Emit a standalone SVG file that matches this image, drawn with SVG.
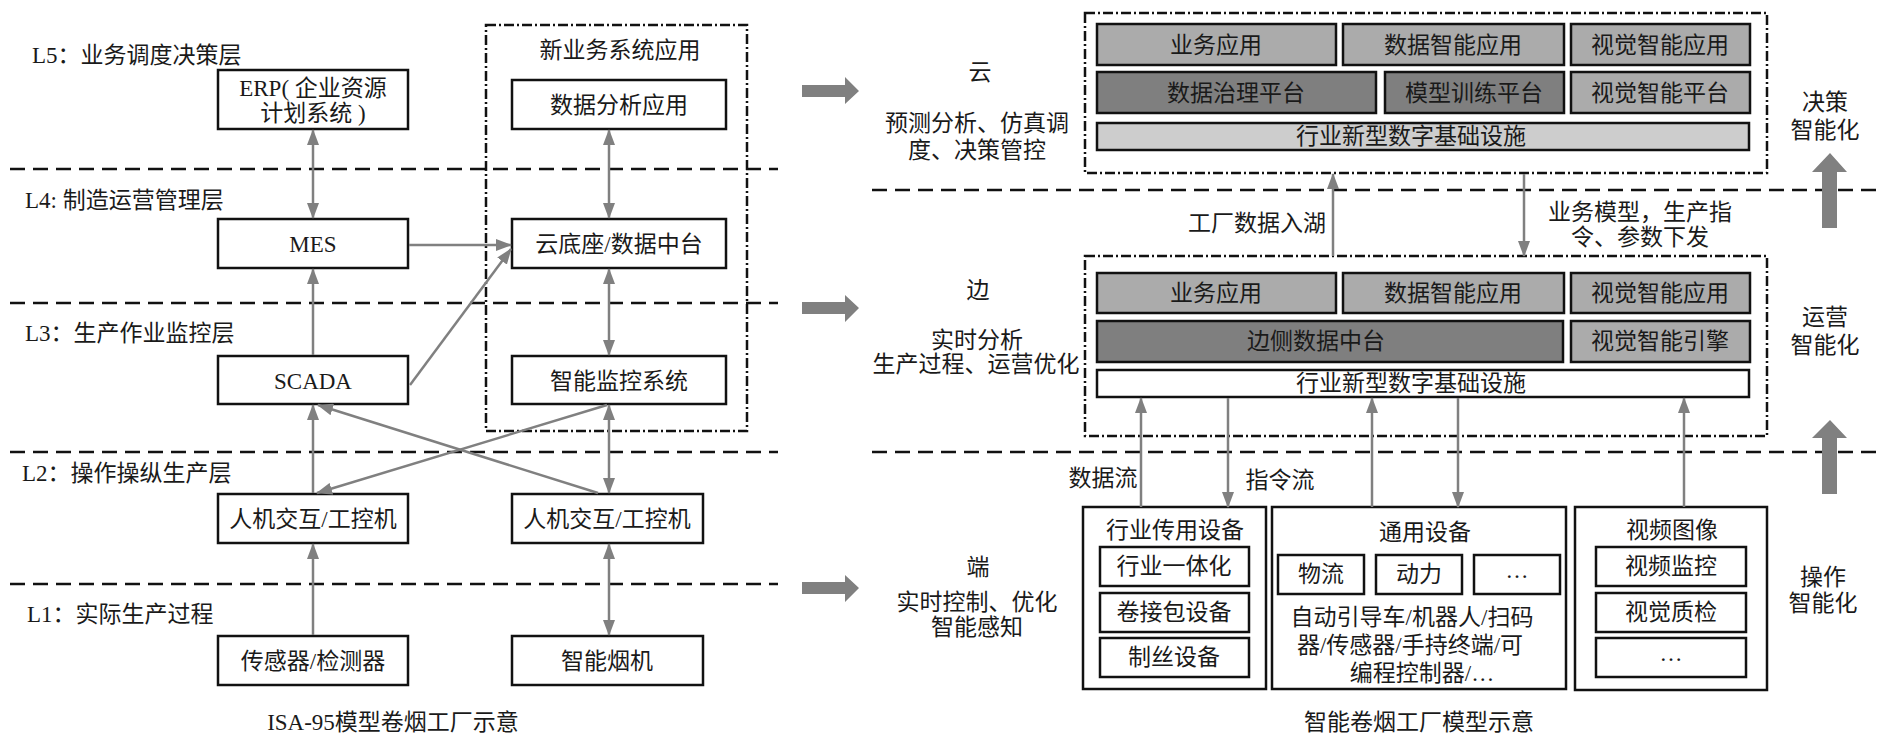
<svg xmlns="http://www.w3.org/2000/svg" width="1904" height="742" viewBox="0 0 1904 742">
<style>
text{font-family:"Liberation Serif","Noto Sans CJK SC",serif;font-size:23px;fill:#1a1a1a;dominant-baseline:central}
.c{text-anchor:middle}
.box{fill:#fff;stroke:#111;stroke-width:2.5}
.g1{fill:#ababab;stroke:#111;stroke-width:2.5}
.g2{fill:#7f7f7f;stroke:#111;stroke-width:2.5}
.g3{fill:#cdcdcd;stroke:#111;stroke-width:2.5}
.dash{stroke:#111;stroke-width:2.5;stroke-dasharray:15 8;fill:none}
.dd{fill:none;stroke:#111;stroke-width:2.5;stroke-dasharray:10 3 2 3}
.cn{stroke:#808080;stroke-width:2.5;fill:none}
.big{fill:#808080}
</style>
<defs>
<marker id="ah" markerUnits="userSpaceOnUse" markerWidth="16" markerHeight="12" refX="15" refY="6" orient="auto-start-reverse">
<path d="M0,0 L16,6 L0,12 z" fill="#808080"/>
</marker>
</defs>
<rect width="1904" height="742" fill="#fff"/>

<g id="layer-lines">
<line class="dash" x1="10" y1="169" x2="778" y2="169"/>
<line class="dash" x1="10" y1="303" x2="778" y2="303"/>
<line class="dash" x1="10" y1="452" x2="778" y2="452"/>
<line class="dash" x1="10" y1="584" x2="778" y2="584"/>
<line class="dash" x1="872" y1="190" x2="1878" y2="190"/>
<line class="dash" x1="872" y1="452" x2="1878" y2="452"/>
</g>

<g id="layer-labels">
<text x="32" y="55">L5：业务调度决策层</text>
<text x="25" y="200">L4: 制造运营管理层</text>
<text x="25" y="333">L3：生产作业监控层</text>
<text x="22" y="473">L2：操作操纵生产层</text>
<text x="27" y="614">L1：实际生产过程</text>
<text class="c" x="393" y="722">ISA-95模型卷烟工厂示意</text>
<text class="c" x="1419" y="722">智能卷烟工厂模型示意</text>
</g>

<g id="new-biz-group">
<rect class="dd" x="486" y="25" width="261" height="406"/>
<text class="c" x="620" y="50">新业务系统应用</text>
</g>

<g id="erp"><rect class="box" x="218" y="70" width="190" height="59"/><text class="c" x="313" y="88">ERP( 企业资源</text><text class="c" x="313" y="113">计划系统 )</text></g>
<g id="mes"><rect class="box" x="218" y="219" width="190" height="49"/><text class="c" x="313" y="244">MES</text></g>
<g id="scada"><rect class="box" x="218" y="356" width="190" height="48"/><text class="c" x="313" y="381">SCADA</text></g>
<g id="hmi-left"><rect class="box" x="218" y="494" width="190" height="49"/><text class="c" x="313" y="519">人机交互/工控机</text></g>
<g id="sensor"><rect class="box" x="218" y="636" width="190" height="49"/><text class="c" x="313" y="661">传感器/检测器</text></g>
<g id="data-app"><rect class="box" x="512" y="80" width="214" height="49"/><text class="c" x="619" y="105">数据分析应用</text></g>
<g id="cloud-base"><rect class="box" x="512" y="219" width="214" height="49"/><text class="c" x="619" y="244">云底座/数据中台</text></g>
<g id="monitor"><rect class="box" x="512" y="356" width="214" height="48"/><text class="c" x="619" y="381">智能监控系统</text></g>
<g id="hmi-right"><rect class="box" x="512" y="494" width="191" height="49"/><text class="c" x="607" y="519">人机交互/工控机</text></g>
<g id="smart-machine"><rect class="box" x="512" y="636" width="191" height="49"/><text class="c" x="607" y="661">智能烟机</text></g>

<g id="big-arrows">
<path class="big" d="M802,85 H845 V77 L859,91 L845,104 V97 H802 z"/>
<path class="big" d="M802,302 H845 V295 L859,308 L845,322 V314 H802 z"/>
<path class="big" d="M802,582 H845 V575 L859,588 L845,602 V594 H802 z"/>
<path class="big" d="M1822,228 V172 H1812 L1830,153 L1847,172 H1837 V228 z"/>
<path class="big" d="M1822,494 V438 H1812 L1830,420 L1847,438 H1837 V494 z"/>
</g>

<g id="tier-labels">
<text class="c" x="980" y="72">云</text>
<text class="c" x="977" y="123">预测分析、仿真调</text>
<text class="c" x="977" y="150">度、决策管控</text>
<text class="c" x="978" y="290">边</text>
<text class="c" x="977" y="340">实时分析</text>
<text class="c" x="976" y="364">生产过程、运营优化</text>
<text class="c" x="978" y="567">端</text>
<text class="c" x="977" y="602">实时控制、优化</text>
<text class="c" x="977" y="627">智能感知</text>
<text class="c" x="1825" y="102">决策</text>
<text class="c" x="1825" y="130">智能化</text>
<text class="c" x="1825" y="317">运营</text>
<text class="c" x="1825" y="345">智能化</text>
<text class="c" x="1823" y="577">操作</text>
<text class="c" x="1823" y="603">智能化</text>
</g>

<g id="cloud">
<rect class="dd" x="1085" y="13" width="682" height="160"/>
<rect class="g1" x="1097" y="24" width="239" height="41"/><text class="c" x="1216" y="45">业务应用</text>
<rect class="g1" x="1343" y="24" width="221" height="41"/><text class="c" x="1453" y="45">数据智能应用</text>
<rect class="g1" x="1571" y="24" width="179" height="41"/><text class="c" x="1660" y="45">视觉智能应用</text>
<rect class="g2" x="1097" y="72" width="279" height="41"/><text class="c" x="1236" y="93">数据治理平台</text>
<rect class="g2" x="1385" y="72" width="179" height="41"/><text class="c" x="1474" y="93">模型训练平台</text>
<rect class="g1" x="1571" y="72" width="179" height="41"/><text class="c" x="1660" y="93">视觉智能平台</text>
<rect class="g3" x="1097" y="123" width="652" height="27"/><text class="c" x="1411" y="136">行业新型数字基础设施</text>
</g>

<g id="edge">
<rect class="dd" x="1085" y="256" width="682" height="180"/>
<rect class="g1" x="1097" y="273" width="239" height="40"/><text class="c" x="1216" y="293">业务应用</text>
<rect class="g1" x="1343" y="273" width="221" height="40"/><text class="c" x="1453" y="293">数据智能应用</text>
<rect class="g1" x="1571" y="273" width="179" height="40"/><text class="c" x="1660" y="293">视觉智能应用</text>
<rect class="g2" x="1097" y="321" width="466" height="41"/><text class="c" x="1316" y="341">边侧数据中台</text>
<rect class="g1" x="1571" y="321" width="179" height="41"/><text class="c" x="1660" y="341">视觉智能引擎</text>
<rect class="box" x="1097" y="370" width="652" height="27"/><text class="c" x="1411" y="383">行业新型数字基础设施</text>
</g>

<g id="industry-devices">
<rect class="box" x="1083" y="507" width="183" height="182"/>
<text class="c" x="1175" y="530">行业传用设备</text>
<rect class="box" x="1100" y="547" width="149" height="39"/><text class="c" x="1174" y="566">行业一体化</text>
<rect class="box" x="1100" y="593" width="149" height="39"/><text class="c" x="1174" y="612">卷接包设备</text>
<rect class="box" x="1100" y="638" width="149" height="39"/><text class="c" x="1174" y="657">制丝设备</text>
</g>

<g id="general-devices">
<rect class="box" x="1272" y="507" width="294" height="182"/>
<text class="c" x="1425" y="532">通用设备</text>
<rect class="box" x="1278" y="555" width="86" height="39"/><text class="c" x="1321" y="574">物流</text>
<rect class="box" x="1376" y="555" width="86" height="39"/><text class="c" x="1419" y="574">动力</text>
<rect class="box" x="1474" y="555" width="86" height="39"/><text class="c" x="1517" y="570">…</text>
<text class="c" x="1412" y="617">自动引导车/机器人/扫码</text>
<text class="c" x="1410" y="645">器/传感器/手持终端/可</text>
<text class="c" x="1422" y="673">编程控制器/…</text>
</g>

<g id="video">
<rect class="box" x="1575" y="507" width="192" height="183"/>
<text class="c" x="1672" y="530">视频图像</text>
<rect class="box" x="1596" y="547" width="150" height="39"/><text class="c" x="1671" y="566">视频监控</text>
<rect class="box" x="1596" y="593" width="150" height="39"/><text class="c" x="1671" y="612">视觉质检</text>
<rect class="box" x="1596" y="638" width="150" height="39"/><text class="c" x="1671" y="653">…</text>
</g>

<g id="connector-labels">
<text class="c" x="1257" y="223">工厂数据入湖</text>
<text class="c" x="1640" y="212">业务模型，生产指</text>
<text class="c" x="1640" y="237">令、参数下发</text>
<text class="c" x="1103" y="478">数据流</text>
<text class="c" x="1280" y="480">指令流</text>
</g>

<g id="connectors">
<line class="cn" x1="313" y1="130" x2="313" y2="218" marker-start="url(#ah)" marker-end="url(#ah)"/>
<line class="cn" x1="409" y1="245" x2="511" y2="245" marker-end="url(#ah)"/>
<line class="cn" x1="410" y1="385" x2="511" y2="249" marker-end="url(#ah)"/>
<line class="cn" x1="313" y1="355" x2="313" y2="269" marker-end="url(#ah)"/>
<line class="cn" x1="609" y1="130" x2="609" y2="218" marker-start="url(#ah)" marker-end="url(#ah)"/>
<line class="cn" x1="609" y1="269" x2="609" y2="355" marker-start="url(#ah)" marker-end="url(#ah)"/>
<line class="cn" x1="609" y1="405" x2="609" y2="493" marker-start="url(#ah)" marker-end="url(#ah)"/>
<line class="cn" x1="609" y1="544" x2="609" y2="635" marker-start="url(#ah)" marker-end="url(#ah)"/>
<line class="cn" x1="313" y1="635" x2="313" y2="544" marker-end="url(#ah)"/>
<line class="cn" x1="313" y1="493" x2="313" y2="405" marker-end="url(#ah)"/>
<line class="cn" x1="607" y1="405" x2="317" y2="493" marker-end="url(#ah)"/>
<line class="cn" x1="598" y1="493" x2="318" y2="405" marker-end="url(#ah)"/>
<line class="cn" x1="1333" y1="256" x2="1333" y2="174" marker-end="url(#ah)"/>
<line class="cn" x1="1524" y1="174" x2="1524" y2="256" marker-end="url(#ah)"/>
<line class="cn" x1="1141" y1="507" x2="1141" y2="398" marker-end="url(#ah)"/>
<line class="cn" x1="1228" y1="398" x2="1228" y2="507" marker-end="url(#ah)"/>
<line class="cn" x1="1372" y1="507" x2="1372" y2="398" marker-end="url(#ah)"/>
<line class="cn" x1="1458" y1="398" x2="1458" y2="507" marker-end="url(#ah)"/>
<line class="cn" x1="1684" y1="507" x2="1684" y2="398" marker-end="url(#ah)"/>
</g>
</svg>
